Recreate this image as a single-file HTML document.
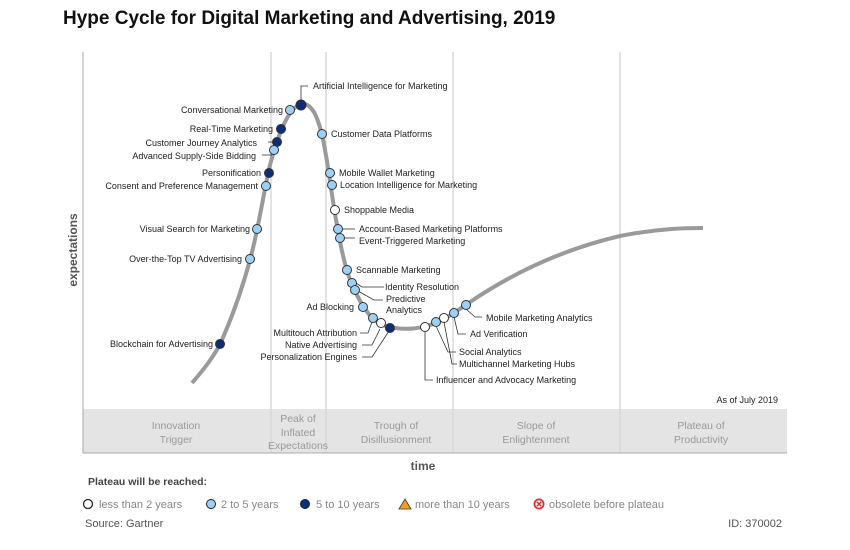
<!DOCTYPE html>
<html><head><meta charset="utf-8"><style>
body{margin:0;background:#fff;}
svg{display:block;font-family:"Liberation Sans",sans-serif;}
</style></head><body>
<svg width="850" height="550" viewBox="0 0 850 550">
<text x="63" y="24" font-size="19" font-weight="bold" fill="#111">Hype Cycle for Digital Marketing and Advertising, 2019</text>
<rect x="83" y="409" width="704" height="44" fill="#e4e4e4"/>
<g stroke="#d8d8d8" stroke-width="1.5">
<line x1="271" y1="52" x2="271" y2="453"/><line x1="326" y1="52" x2="326" y2="453"/>
<line x1="453" y1="52" x2="453" y2="453"/><line x1="620" y1="52" x2="620" y2="453"/>
</g>
<line x1="83" y1="453" x2="787" y2="453" stroke="#aaa" stroke-width="1"/>
<line x1="83" y1="52" x2="83" y2="453" stroke="#aaa" stroke-width="1"/>
<text transform="translate(77,250) rotate(-90)" text-anchor="middle" font-size="12" font-weight="bold" fill="#555">expectations</text>
<text x="423" y="470" text-anchor="middle" font-size="12" font-weight="bold" fill="#555">time</text>
<g font-size="10.5" fill="#999" text-anchor="middle">
<text x="176" y="429">Innovation</text><text x="176" y="443">Trigger</text>
<text x="298" y="422">Peak of</text><text x="298" y="436">Inflated</text><text x="298" y="449">Expectations</text>
<text x="396" y="429">Trough of</text><text x="396" y="443">Disillusionment</text>
<text x="536" y="429">Slope of</text><text x="536" y="443">Enlightenment</text>
<text x="701" y="429">Plateau of</text><text x="701" y="443">Productivity</text>
</g>
<text x="778" y="403" text-anchor="end" font-size="9" fill="#222">As of July 2019</text>
<path d="M192,383 C205,368 215,355 222,340 C235,310 245,280 252,252 C260,220 265,185 270,165 C278,135 288,108 301,104 C312,102 318,118 322,135 C328,160 332,200 337,225 C342,255 348,280 358,297 C368,315 375,326 395,328 C410,330 420,328 430,325 C445,320 455,312 470,302 C510,275 560,250 620,236 C660,228 690,228 703,228" fill="none" stroke="#9a9a9a" stroke-width="4"/>
<g stroke="#333" stroke-width="0.8" fill="none">
<path d="M301,100 V86 H308"/><path d="M268,142 H275"/><path d="M262,155 H272"/>
<path d="M343,229 H355"/><path d="M343,238 H355"/>
<path d="M356,283 L362,287 H384"/><path d="M358,291 L374,300 H383"/>
<path d="M372,322 L368,333 H360"/><path d="M380,329 L372,345 H362"/><path d="M389,331 L372,357 H362"/>
<path d="M425,330 V380 H433"/><path d="M436,326 L448,352 H456"/><path d="M444,322 L452,364 H457"/>
<path d="M454,317 L458,334 H466"/><path d="M466,309 L475,317 H482"/>
</g>
<g stroke="#333" stroke-width="1">
<circle cx="301" cy="105" r="5" fill="#0b2e7a"/>
<circle cx="290" cy="110" r="4.5" fill="#9dd0f5"/>
<circle cx="281" cy="129" r="4.5" fill="#0b2e7a"/>
<circle cx="277" cy="142" r="4.5" fill="#0b2e7a"/>
<circle cx="274" cy="150" r="4.5" fill="#9dd0f5"/>
<circle cx="269" cy="173" r="4.5" fill="#0b2e7a"/>
<circle cx="266" cy="186" r="4.5" fill="#9dd0f5"/>
<circle cx="257" cy="229" r="4.5" fill="#9dd0f5"/>
<circle cx="250" cy="259" r="4.5" fill="#9dd0f5"/>
<circle cx="220" cy="344" r="4.5" fill="#0b2e7a"/>
<circle cx="322" cy="134" r="4.5" fill="#9dd0f5"/>
<circle cx="330" cy="173" r="4.5" fill="#9dd0f5"/>
<circle cx="332" cy="185" r="4.5" fill="#9dd0f5"/>
<circle cx="335" cy="210" r="4.5" fill="#fff"/>
<circle cx="338" cy="229" r="4.5" fill="#9dd0f5"/>
<circle cx="340" cy="238" r="4.5" fill="#9dd0f5"/>
<circle cx="347" cy="270" r="4.5" fill="#9dd0f5"/>
<circle cx="352" cy="283" r="4.5" fill="#9dd0f5"/>
<circle cx="355" cy="290" r="4.5" fill="#9dd0f5"/>
<circle cx="363" cy="307" r="4.5" fill="#9dd0f5"/>
<circle cx="373" cy="318" r="4.5" fill="#9dd0f5"/>
<circle cx="381" cy="323" r="4.5" fill="#fff"/>
<circle cx="390" cy="328" r="4.5" fill="#0b2e7a"/>
<circle cx="425" cy="327" r="4.5" fill="#fff"/>
<circle cx="436" cy="322" r="4.5" fill="#9dd0f5"/>
<circle cx="444" cy="318" r="4.5" fill="#fff"/>
<circle cx="454" cy="313" r="4.5" fill="#9dd0f5"/>
<circle cx="466" cy="305" r="4.5" fill="#9dd0f5"/>
</g>
<g font-size="9" fill="#222">
<text x="313" y="89">Artificial Intelligence for Marketing</text>
<g text-anchor="end">
<text x="283" y="113">Conversational Marketing</text>
<text x="273" y="132">Real-Time Marketing</text>
<text x="257" y="146">Customer Journey Analytics</text>
<text x="256" y="159">Advanced Supply-Side Bidding</text>
<text x="261" y="176">Personification</text>
<text x="258" y="189">Consent and Preference Management</text>
<text x="250" y="232">Visual Search for Marketing</text>
<text x="242" y="262">Over-the-Top TV Advertising</text>
<text x="213" y="347">Blockchain for Advertising</text>
<text x="354" y="310">Ad Blocking</text>
<text x="357" y="336">Multitouch Attribution</text>
<text x="357" y="348">Native Advertising</text>
<text x="357" y="360">Personalization Engines</text>
</g>
<text x="331" y="137">Customer Data Platforms</text>
<text x="339" y="176">Mobile Wallet Marketing</text>
<text x="340" y="188">Location Intelligence for Marketing</text>
<text x="344" y="213">Shoppable Media</text>
<text x="359" y="232">Account-Based Marketing Platforms</text>
<text x="359" y="244">Event-Triggered Marketing</text>
<text x="356" y="273">Scannable Marketing</text>
<text x="385" y="290">Identity Resolution</text>
<text x="386" y="302">Predictive</text>
<text x="386" y="313">Analytics</text>
<text x="486" y="321">Mobile Marketing Analytics</text>
<text x="470" y="337">Ad Verification</text>
<text x="459" y="355">Social Analytics</text>
<text x="459" y="367">Multichannel Marketing Hubs</text>
<text x="436" y="383">Influencer and Advocacy Marketing</text>
</g>
<text x="88" y="485" font-size="10.5" font-weight="bold" fill="#444">Plateau will be reached:</text>
<g font-size="11" fill="#888">
<circle cx="88" cy="504" r="4.5" fill="#fff" stroke="#222" stroke-width="1.3"/><text x="99" y="508">less than 2 years</text>
<circle cx="211" cy="504" r="4.5" fill="#9dd0f5" stroke="#222" stroke-width="1"/><text x="221" y="508">2 to 5 years</text>
<circle cx="305" cy="504" r="4.5" fill="#0b2e7a" stroke="#222" stroke-width="1"/><text x="316" y="508">5 to 10 years</text>
<path d="M399,509 L405,499 L411,509 Z" fill="#f0a020" stroke="#333" stroke-width="0.8"/><text x="415" y="508">more than 10 years</text>
<circle cx="539" cy="504" r="4.6" fill="#fff" stroke="#e0282c" stroke-width="1.7"/>
<path d="M536.8,501.8 L541.2,506.2 M541.2,501.8 L536.8,506.2" stroke="#e0282c" stroke-width="1.4"/>
<text x="549" y="508">obsolete before plateau</text>
</g>
<text x="85" y="527" font-size="11" fill="#555">Source: Gartner</text>
<text x="782" y="527" font-size="11" fill="#555" text-anchor="end">ID: 370002</text>
</svg>
</body></html>
